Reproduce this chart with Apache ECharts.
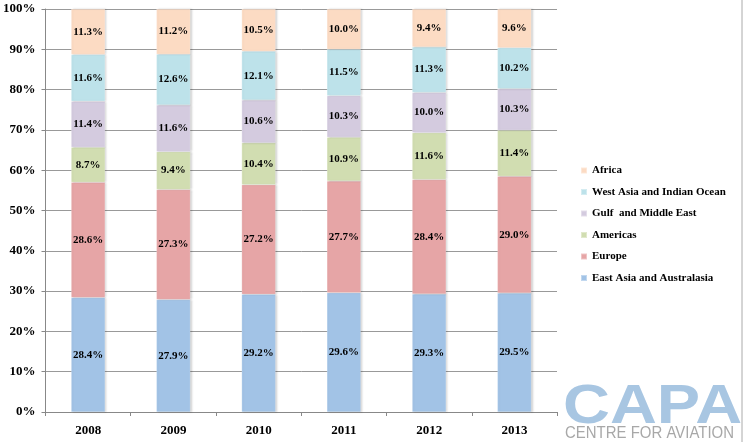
<!DOCTYPE html>
<html>
<head>
<meta charset="utf-8">
<script src="https://cdn.jsdelivr.net/npm/echarts@6/dist/echarts.min.js"></script>
<style>html,body{margin:0;padding:0;background:#fff}#c{width:743px;height:442px}</style>
</head>
<body>
<div id="c"></div>
<script>
const years = ['2008','2009','2010','2011','2012','2013'];
const eastAsia = [28.4, 27.9, 29.2, 29.6, 29.3, 29.5];
const europe = [28.6, 27.3, 27.2, 27.7, 28.4, 29.0];
const americas = [8.7, 9.4, 10.4, 10.9, 11.6, 11.4];
const gulf = [11.4, 11.6, 10.6, 10.3, 10.0, 10.3];
const westAsia = [11.6, 12.6, 12.1, 11.5, 11.3, 10.2];
const africa = [11.3, 11.2, 10.5, 10.0, 9.4, 9.6];
const yTicks = [0,10,20,30,40,50,60,70,80,90,100];

const serif = '"Liberation Serif", "DejaVu Serif", serif';
const seriesDefs = [
  ['East Asia and Australasia', eastAsia, '#A2C3E6'],
  ['Europe', europe, '#E6A5A6'],
  ['Americas', americas, '#D1DDB1'],
  ['Gulf  and Middle East', gulf, '#D4CBDF'],
  ['West Asia and Indian Ocean', westAsia, '#BDE2EA'],
  ['Africa', africa, '#FCDBC3']
];

const chart = echarts.init(document.getElementById('c'));
chart.setOption({
  animation: false,
  grid: {left: 45, right: 186, top: 9, bottom: 30},
  legend: {
    orient: 'vertical', left: 575, top: 160,
    data: seriesDefs.map(s => s[0]).reverse(),
    icon: 'rect', itemWidth: 6, itemHeight: 6, itemGap: 10.5,
    textStyle: {fontFamily: serif, fontWeight: 'bold', fontSize: 11, color: '#000'}
  },
  xAxis: {
    type: 'category', data: years,
    axisLine: {lineStyle: {color: '#888'}},
    axisTick: {show: true, length: 4, lineStyle: {color: '#888'}},
    axisLabel: {fontFamily: serif, fontWeight: 'bold', fontSize: 13, color: '#000', margin: 12}
  },
  yAxis: {
    type: 'value', min: 0, max: 100, interval: 10,
    axisLine: {show: true, lineStyle: {color: '#888'}},
    axisTick: {show: true, length: 4, lineStyle: {color: '#888'}},
    splitLine: {lineStyle: {color: '#999'}},
    axisLabel: {formatter: v => yTicks.includes(v) ? v + '%' : '', fontFamily: serif, fontWeight: 'bold', fontSize: 13, color: '#000', margin: 10}
  },
  series: seriesDefs.map(([name, data, color]) => ({
    name, type: 'bar', stack: 'total', data, barWidth: 34,
    itemStyle: {color, borderColor: 'rgba(255,255,255,0.35)', borderWidth: 0.5,
      shadowColor: 'rgba(0,0,0,0.18)', shadowBlur: 2, shadowOffsetX: 1.5},
    label: {show: true, position: 'inside', formatter: p => p.value.toFixed(1) + '%',
      fontFamily: serif, fontWeight: 'bold', fontSize: 11, color: '#000'}
  })),
  graphic: [
    {type: 'line', shape: {x1: 742, y1: 0, x2: 742, y2: 442}, style: {stroke: '#aaa', lineWidth: 1}},
    {type: 'text', x: 563, y: 380, scaleX: 1.16,
      style: {text: 'CAPA', font: 'bold 56px "Liberation Sans", Arial, sans-serif', fill: '#A8C6E2'}},
    {type: 'text', x: 565, y: 425, scaleX: 0.88,
      style: {text: 'CENTRE FOR AVIATION', font: '17px "Liberation Sans", Arial, sans-serif', fill: '#A8A8A8'}}
  ]
});
</script>
</body>
</html>
